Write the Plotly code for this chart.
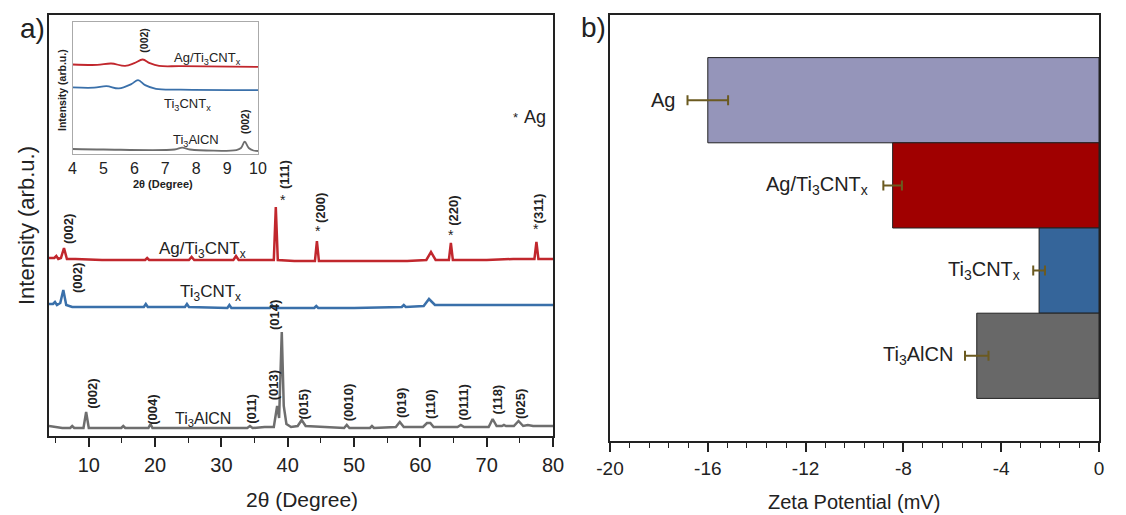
import plotly.graph_objects as go

W, H = 1126, 515

# ---------------- data: XRD (main panel, arbitrary intensity units) ----------------
tt_alcn = [4, 5, 6, 7.2, 7.5, 7.8, 9.2, 9.6, 10.0, 12, 14.9, 15.2, 15.5, 19.0, 19.3, 19.6, 25, 30,
           33.9, 34.3, 34.7, 36.5, 37.9, 38.4, 38.7, 39.1, 39.4, 39.8, 40.5, 41.5, 42.1, 42.7, 45,
           48.5, 48.9, 49.3, 52.4, 52.7, 53, 56.3, 56.9, 57.5, 60.4, 61.0, 61.5, 62.0, 65.6, 66.1,
           66.6, 70.3, 70.9, 71.5, 72.3, 72.6, 72.9, 74.1, 74.8, 75.5, 76.2, 77, 80]
int_alcn = [10, 9, 8, 8, 10, 8, 8, 24, 8, 8, 8, 10, 8, 8, 12, 8, 8, 8,
            8, 10, 8, 9, 9, 30, 18, 104, 30, 12, 9, 10, 16, 10, 9,
            8, 11, 8, 8, 10, 8, 9, 14, 9, 9, 13, 13, 9, 9, 11,
            9, 9, 17, 10, 10, 11, 10, 10, 15, 10, 11, 10, 10]

tt_cnt = [4, 4.6, 4.9, 5.2, 5.7, 6.16, 6.6, 7.5, 10, 15, 18.3, 18.6, 18.9, 24.5, 24.8, 25.1,
          30.9, 31.2, 31.5, 37.3, 37.6, 37.9, 44.0, 44.3, 44.6, 50, 57.2, 57.5, 57.8, 60.5, 61.3,
          62.2, 65, 70, 75, 80]
int_cnt = [132, 132, 134, 131, 133, 146, 131, 129, 129, 129, 129, 132, 129, 129, 132, 129,
           128, 131, 128, 128, 131, 128, 128, 130, 128, 128, 129, 131, 129, 130, 137,
           131, 131, 131, 131, 131]

tt_ag = [4, 4.8, 5.1, 5.4, 5.8, 6.26, 6.7, 8, 12, 18.5, 18.8, 19.1, 25.1, 25.5, 25.9, 31.8, 32.2,
         32.6, 35, 37.9, 38.2, 38.5, 41, 44.1, 44.4, 44.7, 50, 58, 60.9, 61.6, 62.3, 64.3, 64.6,
         64.9, 70, 74, 77.2, 77.5, 77.8, 80]
int_ag = [178, 178, 180, 177, 178, 188, 177, 177, 176, 176, 178, 176, 176, 179, 176, 176, 180,
          176, 176, 176, 229, 176, 175, 175, 195, 175, 175, 175, 176, 184, 176, 176, 193,
          176, 176, 177, 177, 194, 177, 177]

# ---------------- data: XRD inset (low angle) ----------------
tt_in_ag = [4, 4.8, 5.25, 5.7, 6.0, 6.27, 6.5, 6.8, 7.5, 10]
int_in_ag = [89.7, 89.3, 90.7, 88.3, 91, 94.7, 91, 88.3, 88, 87.3]
tt_in_cnt = [4, 4.7, 5.1, 5.5, 5.9, 6.12, 6.35, 6.7, 7.5, 10]
int_in_cnt = [66.7, 66.5, 68, 65.7, 70, 74, 69, 65.3, 64.5, 64]
tt_in_alcn = [4, 5, 7.3, 7.55, 7.8, 9.3, 9.45, 9.57, 9.7, 9.85, 10]
int_in_alcn = [5, 4.5, 4.5, 6.3, 4.5, 4, 6, 12.3, 6, 3.5, 3]

# ---------------- data: zeta potential ----------------
samples = ["Ag", "Ag/Ti3CNTx", "Ti3CNTx", "Ti3AlCN"]
sample_labels = ["Ag", "Ag/Ti<sub>3</sub>CNT<sub>x</sub>", "Ti<sub>3</sub>CNT<sub>x</sub>", "Ti<sub>3</sub>AlCN"]
zeta = [-16.0, -8.44, -2.45, -5.0]
zeta_err = [0.83, 0.38, 0.24, 0.48]
bar_colors = ["#9595BA", "#A00000", "#35659A", "#686868"]
zeta_ticks = [-20, -16, -12, -8, -4, 0]
zeta_ticktext = ["-20", "-16", "-12", "-8", "-4", "0"]

# peak labels (main panel): text, 2theta position, intensity position
gray_peaks = [("(002)", 10.44, 42), ("(004)", 19.49, 26), ("(011)", 34.42, 27), ("(013)", 37.83, 51),
              ("(014)", 37.94, 121), ("(015)", 42.36, 32), ("(0010)", 49.14, 34), ("(019)", 57.09, 33),
              ("(110)", 61.46, 32), ("(0111)", 66.49, 34), ("(118)", 71.62, 37), ("(025)", 75.04, 32)]
ag_peaks = [("(111)", 39.45, 261, 39.3, 236), ("(200)", 44.87, 228, 44.5, 205),
            ("(220)", 64.9, 225, 64.6, 201), ("(311)", 77.8, 228, 77.45, 207)]

RED, BLUE, GRAY = "#C1272D", "#3A70AA", "#6E6E6E"
FONT = "Liberation Sans, Arial, sans-serif"
TXT = "#222"

fig = go.Figure()

fig.add_trace(go.Scatter(x=tt_alcn, y=int_alcn, mode="lines", line=dict(color=GRAY, width=2.5),
                         xaxis="x", yaxis="y", showlegend=False))
fig.add_trace(go.Scatter(x=tt_cnt, y=int_cnt, mode="lines", line=dict(color=BLUE, width=2.5),
                         xaxis="x", yaxis="y", showlegend=False))
fig.add_trace(go.Scatter(x=tt_ag, y=int_ag, mode="lines", line=dict(color=RED, width=2.5),
                         xaxis="x", yaxis="y", showlegend=False))

fig.add_trace(go.Scatter(x=tt_in_alcn, y=int_in_alcn, mode="lines", line=dict(color=GRAY, width=1.8, shape="spline"),
                         xaxis="x3", yaxis="y3", showlegend=False))
fig.add_trace(go.Scatter(x=tt_in_cnt, y=int_in_cnt, mode="lines", line=dict(color=BLUE, width=1.8, shape="spline"),
                         xaxis="x3", yaxis="y3", showlegend=False))
fig.add_trace(go.Scatter(x=tt_in_ag, y=int_in_ag, mode="lines", line=dict(color=RED, width=1.8, shape="spline"),
                         xaxis="x3", yaxis="y3", showlegend=False))

fig.add_trace(go.Bar(y=samples, x=zeta, orientation="h", width=1,
                     marker=dict(color=bar_colors, line=dict(color="#222", width=1)),
                     error_x=dict(type="data", array=zeta_err, color="#6B5A20", thickness=2, width=5),
                     xaxis="x2", yaxis="y2", showlegend=False))


def px(xp):
    return xp / W


def py(yp):
    return 1 - yp / H


def A(text, x, y, xref="paper", yref="paper", size=13, angle=0, xanchor="center"):
    return dict(text=text, x=x, y=y, xref=xref, yref=yref, showarrow=False, textangle=angle,
                xanchor=xanchor, yanchor="middle", font=dict(size=size, color=TXT, family=FONT))


ann = []
ann.append(A("a)", px(32), py(28), size=28))
ann.append(A("b)", px(593), py(27), size=28))
ann.append(A("2θ (Degree)", px(301.5), py(499), size=21))
ann.append(A("Intensity (arb.u.)", px(26), py(226), size=22, angle=-90))
ann.append(A("Zeta Potential (mV)", px(854), py(502), size=20))
ann.append(A("<b>2θ (Degree)</b>", px(163), py(184), size=11))
ann.append(A("<b>Intensity (arb.u.)</b>", px(62), py(90), size=10.5, angle=-90))

ann.append(A("Ag/Ti<sub>3</sub>CNT<sub>x</sub>", 27.15, 186, "x", "y", size=17))
ann.append(A("Ti<sub>3</sub>CNT<sub>x</sub>", 28.3, 143, "x", "y", size=17))
ann.append(A("Ti<sub>3</sub>AlCN", 27.2, 17, "x", "y", size=16))
ann.append(A("*", px(515), py(118), size=13))
ann.append(A("Ag", px(522), py(117), size=18, xanchor="left"))

ann.append(A("<b>(002)</b>", 6.87, 207, "x", "y", size=13, angle=-90))
ann.append(A("<b>(002)</b>", 8.22, 158, "x", "y", size=13, angle=-90))
for t, xx, yy in gray_peaks:
    ann.append(A("<b>" + t + "</b>", xx, yy, "x", "y", size=13, angle=-90))
for t, xx, yy, ax_, ay_ in ag_peaks:
    ann.append(A("<b>" + t + "</b>", xx, yy, "x", "y", size=13, angle=-90))
    ann.append(A("*", ax_, ay_, "x", "y", size=14))

ann.append(A("<b>(002)</b>", 6.31, 114.5, "x3", "y3", size=10.5, angle=-90))
ann.append(A("<b>(002)</b>", 9.58, 32, "x3", "y3", size=10.5, angle=-90))
ann.append(A("Ag/Ti<sub>3</sub>CNT<sub>x</sub>", 8.37, 96, "x3", "y3", size=13))
ann.append(A("Ti<sub>3</sub>CNT<sub>x</sub>", 7.71, 50, "x3", "y3", size=13))
ann.append(A("Ti<sub>3</sub>AlCN", 7.99, 14, "x3", "y3", size=13))

bar_label_x = [-17.26, -9.37, -3.15, -5.89]
for lab, xx, s in zip(sample_labels, bar_label_x, samples):
    ann.append(A(lab, xx, s, "x2", "y2", size=20, xanchor="right"))

fig.update_layout(
    width=W, height=H, autosize=False,
    margin=dict(l=0, r=0, t=0, b=0, pad=0, autoexpand=False),
    paper_bgcolor="white", plot_bgcolor="white",
    font=dict(family=FONT, color=TXT),
    annotations=ann,
    xaxis=dict(domain=[px(49), px(553)], anchor="y", range=[4, 80], dtick=10, tick0=0,
               ticks="outside", ticklen=9, tickwidth=1.5, tickcolor=TXT,
               minor=dict(dtick=5, tick0=0, ticks="outside", ticklen=5, tickwidth=1.2, tickcolor=TXT),
               showline=True, mirror=True, linecolor=TXT, linewidth=1.8, showgrid=False, zeroline=False,
               tickfont=dict(size=20, color=TXT), ticklabelstandoff=1, automargin=False),
    yaxis=dict(domain=[py(436), py(15)], anchor="x", range=[0, 421], showticklabels=False, ticks="",
               showline=True, mirror=True, linecolor=TXT, linewidth=1.8, showgrid=False, zeroline=False,
               automargin=False),
    xaxis2=dict(domain=[px(610), px(1099)], anchor="y2", range=[-20, 0],
                tickmode="array", tickvals=zeta_ticks, ticktext=zeta_ticktext,
                ticks="outside", ticklen=9, tickwidth=1.5, tickcolor=TXT,
                minor=dict(dtick=0.8, tick0=0, ticks="outside", ticklen=5, tickwidth=1.2, tickcolor=TXT),
                showline=True, mirror=True, linecolor=TXT, linewidth=1.5, showgrid=False, zeroline=False,
                tickfont=dict(size=19, color=TXT), ticklabelstandoff=0, automargin=False),
    yaxis2=dict(domain=[py(441), py(15)], anchor="x2", type="category", categoryorder="array",
                categoryarray=samples, range=[4, -1], showticklabels=False, ticks="",
                showline=True, mirror=True, linecolor=TXT, linewidth=1.5, showgrid=False, zeroline=False,
                automargin=False),
    xaxis3=dict(domain=[px(72.5), px(258)], anchor="y3", range=[4, 10], dtick=1,
                ticks="", showline=True, mirror=True, linecolor="#AAAAAA", linewidth=1.2,
                showgrid=False, zeroline=False, tickfont=dict(size=16, color=TXT), ticklabelstandoff=0,
                automargin=False),
    yaxis3=dict(domain=[py(154), py(22.3)], anchor="x3", range=[0, 132], showticklabels=False, ticks="",
                showline=True, mirror=True, linecolor="#AAAAAA", linewidth=1.2, showgrid=False, zeroline=False,
                automargin=False),
)

fig.write_html("out.html", config={"responsive": False, "displayModeBar": False},
               post_script="document.body.style.margin='0';document.body.style.overflow='hidden';")
